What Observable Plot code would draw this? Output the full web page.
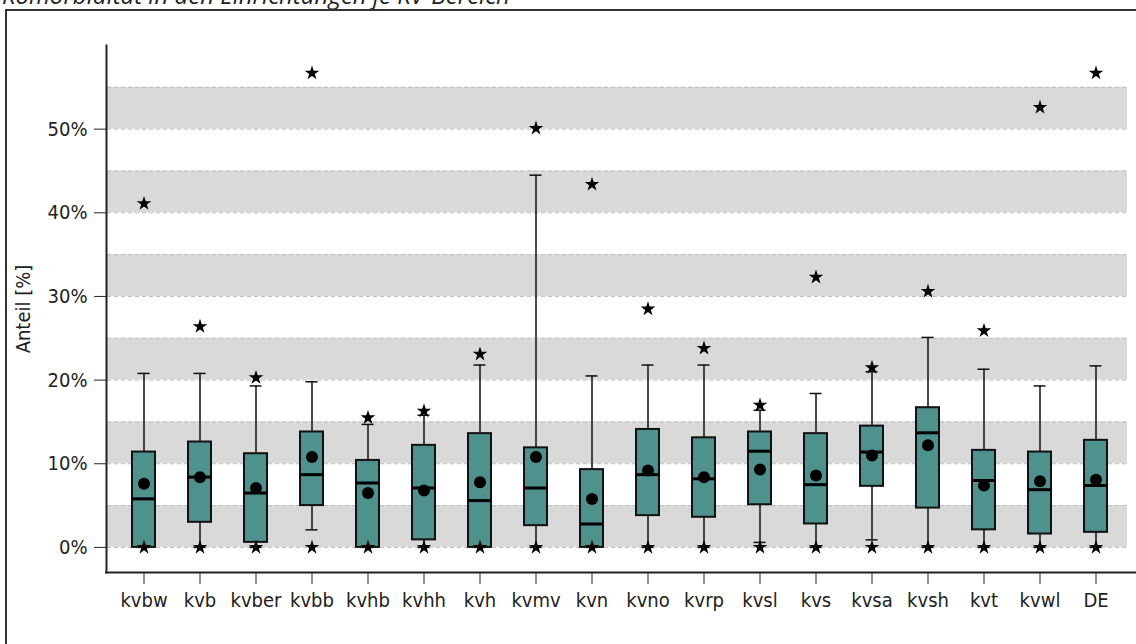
<!DOCTYPE html>
<html>
<head>
<meta charset="utf-8">
<script src="https://cdn.jsdelivr.net/npm/d3@7"></script>
<script src="https://cdn.jsdelivr.net/npm/@observablehq/plot@0.6"></script>
<style>
  html, body { margin: 0; padding: 0; background: #fff; overflow: hidden; }
  #wrap { position: relative; width: 1136px; height: 644px; overflow: hidden; }
  #title { position: absolute; left: 2px; top: -17px; font-family: "Open Sans", sans-serif; font-style: italic; font-size: 24px; line-height: 24px; color: #222; white-space: nowrap; }
  #frame { position: absolute; left: 5px; top: 9px; width: 2000px; height: 2000px; border-left: 2px solid #333; border-top: 2px solid #333; }
  #chart { position: absolute; left: 0; top: 0; }
</style>
</head>
<body>
<div id="wrap">
  <div id="title">Komorbidität in den Einrichtungen je KV-Bereich</div>
  <div id="frame"></div>
  <div id="chart"></div>
</div>
<script>
const categories = ["kvbw","kvb","kvber","kvbb","kvhb","kvhh","kvh","kvmv","kvn","kvno","kvrp","kvsl","kvs","kvsa","kvsh","kvt","kvwl","DE"];
const whiskerLow  = [0, 0, 0, 2.1, 0, 0, 0, 0, 0, 0, 0, 0.6, 0, 0.9, 0, 0, 0, 0];
const q1          = [0, 3.0, 0.6, 5.0, 0, 0.9, 0, 2.6, 0, 3.8, 3.6, 5.1, 2.8, 7.3, 4.7, 2.1, 1.6, 1.8];
const median      = [5.8, 8.4, 6.5, 8.7, 7.7, 7.1, 5.6, 7.1, 2.8, 8.7, 8.2, 11.5, 7.5, 11.4, 13.7, 8.0, 6.9, 7.4];
const q3          = [11.4, 12.6, 11.2, 13.8, 10.4, 12.2, 13.6, 11.9, 9.3, 14.1, 13.1, 13.8, 13.6, 14.5, 16.7, 11.6, 11.4, 12.8];
const whiskerHigh = [20.8, 20.8, 19.3, 19.8, 14.7, 15.8, 21.8, 44.5, 20.5, 21.8, 21.8, 16.4, 18.4, 21.0, 25.1, 21.3, 19.3, 21.7];
const meanValue   = [7.6, 8.4, 7.1, 10.8, 6.5, 6.8, 7.8, 10.8, 5.8, 9.2, 8.4, 9.3, 8.6, 11.0, 12.2, 7.4, 7.9, 8.1];
const maxValue    = [41.1, 26.4, 20.3, 56.7, 15.5, 16.3, 23.1, 50.1, 43.4, 28.5, 23.8, 17.0, 32.3, 21.5, 30.6, 25.9, 52.6, 56.7];
const minValue    = [0, 0, 0, 0, 0, 0, 0, 0, 0, 0, 0, 0, 0, 0, 0, 0, 0, 0];
const yTicks = [0, 10, 20, 30, 40, 50];
const bandStarts = [0, 10, 20, 30, 40, 50];
const gridValues = [0, 5, 10, 15, 20, 25, 30, 35, 40, 45, 50, 55];

const rows = categories.map((c, i) => ({
  cat: c, lo: whiskerLow[i], q1: q1[i], med: median[i], q3: q3[i],
  hi: whiskerHigh[i], mean: meanValue[i], max: maxValue[i], min: minValue[i]
}));
const stars = rows.flatMap(d => [{cat: d.cat, v: d.min}, {cat: d.cat, v: d.max}]);

const fontStack = '"DejaVu Sans Condensed", "DejaVu Sans", sans-serif';

const chart = Plot.plot({
  width: 1136,
  height: 644,
  marginLeft: 108,
  marginRight: 6,
  marginTop: 45,
  marginBottom: 72,
  style: { fontFamily: fontStack, fontSize: "20px", fontStretch: "condensed", color: "#222", background: "transparent" },
  x: { domain: categories, paddingInner: 0.595, paddingOuter: 0.2975 },
  y: { domain: [-3, 60] },
  marks: [
    Plot.rect(bandStarts, { y1: d => d, y2: d => d + 5, fill: "#d9d9d9", insetLeft: -1, insetRight: 3 }),
    Plot.ruleY(gridValues, { y: d => d, stroke: "#bdbdbd", strokeDasharray: "4,3", strokeWidth: 1, insetLeft: -1, insetRight: 3 }),
    Plot.ruleX(rows, { x: "cat", y1: "lo", y2: "hi", stroke: "#111", strokeWidth: 1.5 }),
    Plot.tickY(rows, { x: "cat", y: "hi", stroke: "#111", strokeWidth: 1.5, inset: 5.5 }),
    Plot.tickY(rows, { x: "cat", y: "lo", stroke: "#111", strokeWidth: 1.5, inset: 5.5 }),
    Plot.barY(rows, { x: "cat", y1: "q1", y2: "q3", fill: "#4e918d", stroke: "#111", strokeWidth: 2 }),
    Plot.tickY(rows, { x: "cat", y: "med", stroke: "#000", strokeWidth: 3 }),
    Plot.dot(rows, { x: "cat", y: "mean", r: 6, fill: "#000", stroke: "none" }),
    Plot.dot(stars, { x: "cat", y: "v", symbol: "star", r: 4.6, fill: "#000", stroke: "none" }),
    Plot.frame({ anchor: "left", dx: -2, stroke: "#222", strokeWidth: 2 }),
    Plot.ruleY([-3], { stroke: "#222", strokeWidth: 2, insetLeft: -3, insetRight: -6 }),
    Plot.axisY({ ticks: yTicks, tickFormat: d => d + "%", tickSize: 12, tickPadding: 7, dx: -2,
      label: "Anteil [%]", labelAnchor: "center", labelOffset: 93, labelArrow: "none" }),
    Plot.axisX({ tickSize: 12, tickPadding: 8, label: null })
  ]
});
document.getElementById("chart").appendChild(chart);
</script>
</body>
</html>
